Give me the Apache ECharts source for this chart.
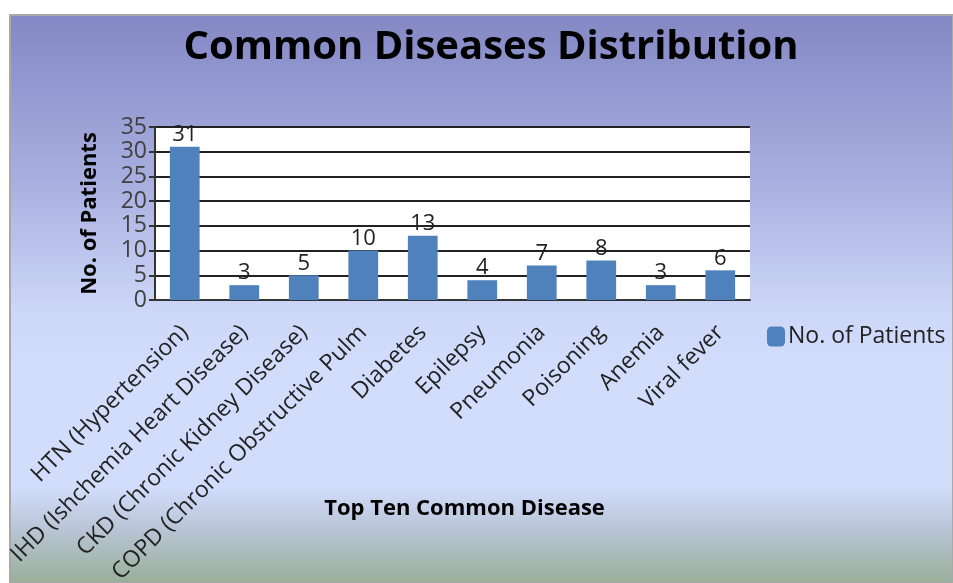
<!DOCTYPE html>
<html>
<head>
<meta charset="utf-8">
<title>Common Diseases Distribution</title>
<script src="https://cdn.jsdelivr.net/npm/echarts@6/dist/echarts.min.js"></script>
<style>
  html, body { margin: 0; padding: 0; background: #ffffff; }
  #chart { width: 953px; height: 583px; }
</style>
</head>
<body>
<div id="chart"></div>
<script>
// Disease categories and patient counts
const categories = [
  'HTN (Hypertension)',
  'IHD (Ishchemia Heart Disease)',
  'CKD (Chronic Kidney Disease)',
  'COPD (Chronic Obstructive Pulm',
  'Diabetes',
  'Epilepsy',
  'Pneumonia',
  'Poisoning',
  'Anemia',
  'Viral fever'
];
const patients = [31, 3, 5, 10, 13, 4, 7, 8, 3, 6];
const yTicks = [0, 5, 10, 15, 20, 25, 30, 35];

const FONT = 'Open Sans';
const chart = echarts.init(document.getElementById('chart'));

chart.setOption({
  animation: false,
  textStyle: { fontFamily: FONT },
  graphic: [
    {
      // chart-area backdrop: violet at the top fading to pale blue, then sage at the foot
      type: 'rect',
      z: -10,
      shape: { x: 10, y: 15, width: 943, height: 568 },
      style: {
        fill: new echarts.graphic.LinearGradient(0, 0, 0, 1, [
          { offset: 0, color: '#8388c4' },
          { offset: 0.3, color: '#a9b0e0' },
          { offset: 0.52, color: '#cdd7f8' },
          { offset: 0.62, color: '#d2ddfc' },
          { offset: 0.83, color: '#d2ddfc' },
          { offset: 0.9, color: '#bac6d8' },
          { offset: 1, color: '#98ae98' }
        ]),
        stroke: '#a8a8a8',
        lineWidth: 2
      }
    }
  ],
  title: {
    text: 'Common Diseases Distribution',
    left: 486,
    textAlign: 'center',
    top: 23,
    textStyle: { fontSize: 40, fontWeight: 'bold', color: '#000000', fontFamily: FONT }
  },
  legend: {
    data: ['No. of Patients'],
    left: 762,
    top: 320,
    orient: 'vertical',
    itemWidth: 18,
    itemHeight: 20,
    itemGap: 6,
    textStyle: { fontSize: 23, color: '#222222', fontFamily: FONT, padding: [0, 0, 0, -2] }
  },
  grid: {
    left: 155,
    right: 203,
    top: 127,
    bottom: 283,
    containLabel: false,
    outerBoundsMode: 'none',
    show: true,
    backgroundColor: '#ffffff',
    borderWidth: 0
  },
  xAxis: {
    type: 'category',
    data: categories,
    name: 'Top Ten Common Disease',
    nameLocation: 'middle',
    nameGap: 198,
    nameMoveOverlap: false,
    nameTextStyle: { fontSize: 22, fontWeight: 'bold', color: '#000000', fontFamily: FONT, padding: [0, 0, 0, 24] },
    axisLine: { lineStyle: { color: '#333333', width: 2 } },
    axisTick: { show: false },
    axisLabel: {
      interval: 0,
      rotate: 45,
      margin: 29,
      fontSize: 23,
      color: '#222222',
      fontFamily: FONT
    }
  },
  yAxis: {
    type: 'value',
    min: 0,
    max: 35,
    interval: 5,
    name: 'No. of Patients',
    nameLocation: 'middle',
    nameRotate: 90,
    nameGap: 54,
    nameMoveOverlap: false,
    nameTextStyle: { fontSize: 22, fontWeight: 'bold', color: '#000000', fontFamily: FONT },
    axisLine: { show: true, lineStyle: { color: '#333333', width: 2 } },
    axisTick: { show: true, inside: false, length: 6, lineStyle: { color: '#333333', width: 2 } },
    splitLine: { show: true, lineStyle: { color: '#222222', width: 2 } },
    axisLabel: {
      margin: 8,
      fontSize: 23,
      color: '#404040',
      fontFamily: FONT,
      showMinLabel: true,
      showMaxLabel: true,
      hideOverlap: false,
      formatter: v => (yTicks.includes(v) ? String(v) : '')
    }
  },
  series: [
    {
      name: 'No. of Patients',
      type: 'bar',
      data: patients,
      barWidth: '50%',
      itemStyle: { color: '#4f81bd' },
      label: {
        show: true,
        position: 'top',
        distance: 1,
        fontSize: 22,
        color: '#222222',
        fontFamily: FONT
      }
    }
  ]
});
</script>
</body>
</html>
